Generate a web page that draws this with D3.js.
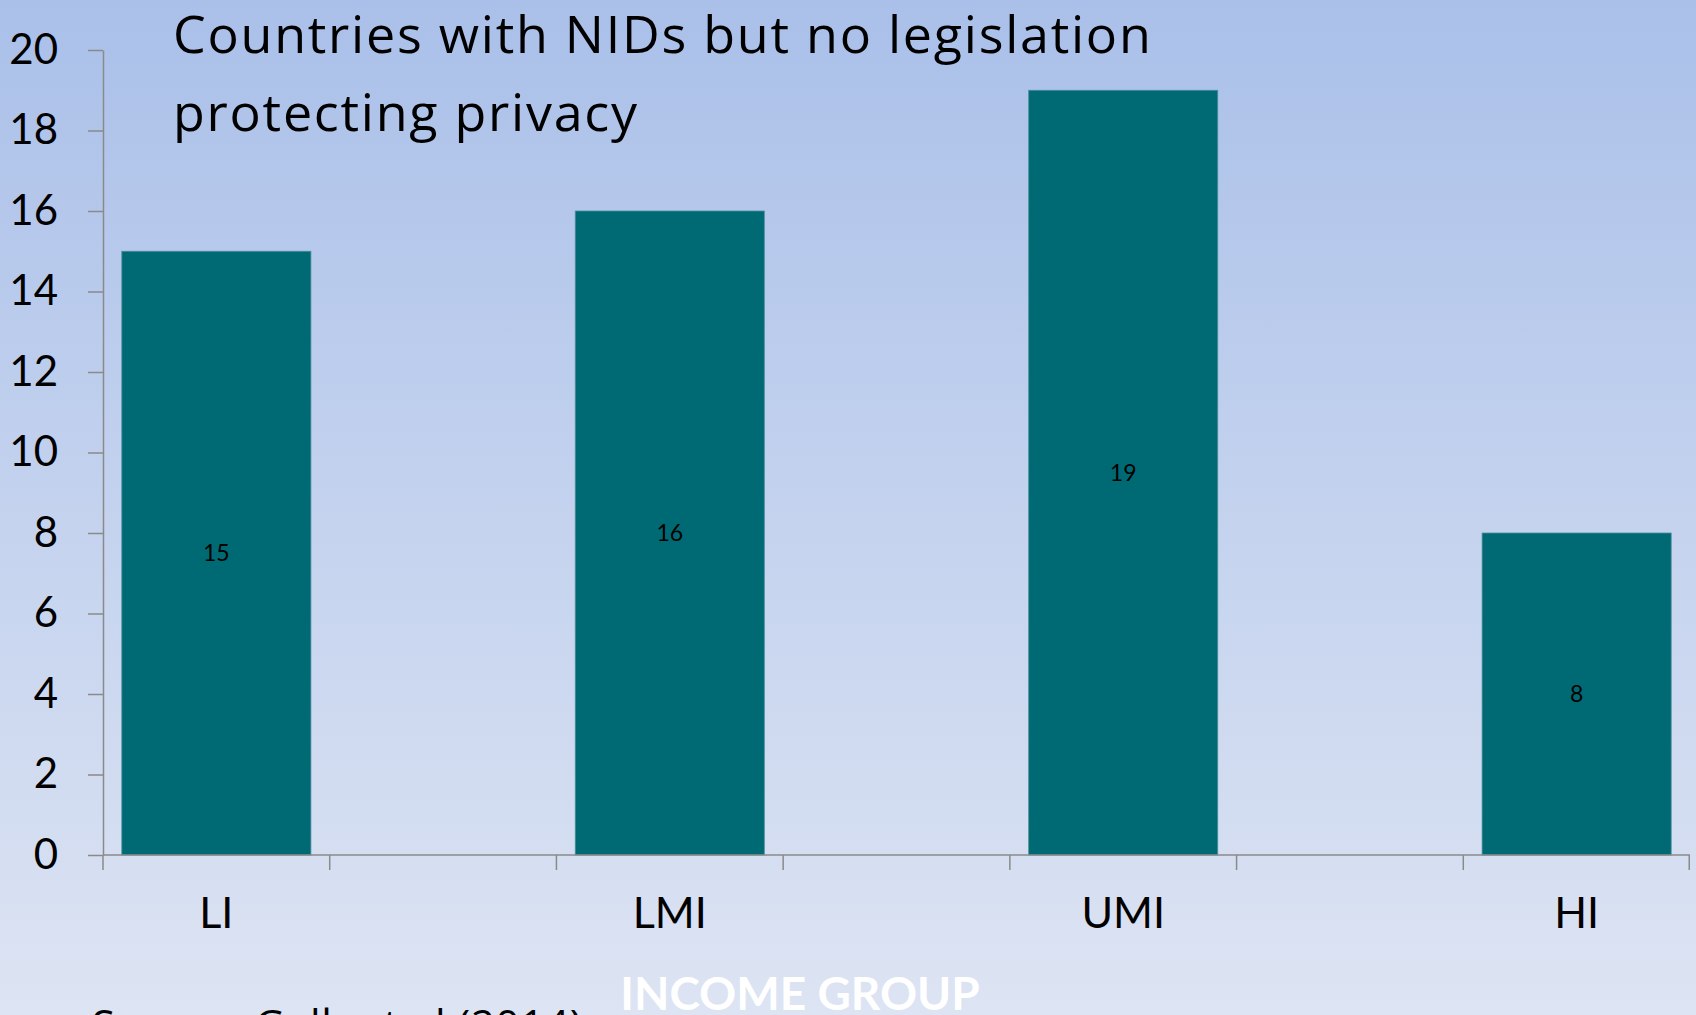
<!DOCTYPE html>
<html>
<head>
<meta charset="utf-8">
<script src="https://cdn.jsdelivr.net/npm/d3@7"></script>
<style>
  body { margin: 0; overflow: hidden; }
  text { font-family: Lato, "Open Sans", sans-serif; font-variant-ligatures: none; }
  .axis path, .axis line { stroke: #8a8a8a; stroke-width: 1.5; }
  .axis text { font-size: 42px; fill: #000; }
  .wide { font-family: "Open Sans", Lato, sans-serif; }
</style>
</head>
<body>
<div id="chart"></div>
<script>
// data
var categories = ["LI", "LMI", "UMI", "HI"];
var values = [15, 16, 19, 8];
var yTickValues = [0, 2, 4, 6, 8, 10, 12, 14, 16, 18, 20];
var titleLines = ["Countries with NIDs but no legislation", "protecting privacy"];

var W = 1696, H = 1015;
var margin = {top: 50, right: 6, bottom: 160, left: 103},
    width = W - margin.left - margin.right,
    height = H - margin.top - margin.bottom;

var data = categories.map(function(c, i) { return {cat: c, value: values[i]}; });

// the sheet had empty rows between the groups, so each group sits in every other slot
var slots = [];
categories.forEach(function(c, i) {
    slots.push(c);
    if (i < categories.length - 1) slots.push("gap" + i);
});

var svg = d3.select("#chart").append("svg")
    .attr("width", W)
    .attr("height", H);

// background gradient
var grad = svg.append("defs").append("linearGradient")
    .attr("id", "bg")
    .attr("x1", 0).attr("y1", 0).attr("x2", 0).attr("y2", 1);
grad.append("stop").attr("offset", "0%").attr("stop-color", "#aac0e9");
grad.append("stop").attr("offset", "100%").attr("stop-color", "#dde4f3");

svg.append("rect")
    .attr("width", W)
    .attr("height", H)
    .attr("fill", "url(#bg)");

var g = svg.append("g")
    .attr("transform", "translate(" + margin.left + "," + margin.top + ")");

// set the ranges
var x = d3.scaleBand().domain(slots).range([0, width])
    .paddingInner(0.166).paddingOuter(0.083);
var y = d3.scaleLinear().domain([0, 20]).range([height, 0]);

// bars
g.selectAll(".bar")
    .data(data)
    .enter().append("rect")
    .attr("class", "bar")
    .attr("x", function(d) { return x(d.cat); })
    .attr("width", x.bandwidth())
    .attr("y", function(d) { return y(d.value); })
    .attr("height", function(d) { return height - y(d.value); })
    .attr("fill", "#006a74")
    .attr("stroke", "#4d8e9c")
    .attr("stroke-width", 0.8);

// value labels in the middle of each bar
g.selectAll(".value")
    .data(data)
    .enter().append("text")
    .attr("class", "value")
    .attr("x", function(d) { return x(d.cat) + x.bandwidth() / 2; })
    .attr("y", function(d) { return y(d.value / 2); })
    .attr("dy", "0.35em")
    .attr("text-anchor", "middle")
    .style("font-size", "23px")
    .text(function(d) { return d.value; });

// Y axis
g.append("g")
    .attr("class", "y axis")
    .call(d3.axisLeft(y).tickValues(yTickValues).tickSize(15).tickSizeOuter(0).tickPadding(30));

// X axis: baseline plus a tick at every slot boundary
var xAxis = g.append("g")
    .attr("class", "x axis")
    .attr("transform", "translate(0," + height + ")");

xAxis.append("line")
    .attr("x1", 0).attr("x2", width)
    .attr("y1", 0).attr("y2", 0);

xAxis.selectAll(".tick-line")
    .data(d3.range(slots.length + 1))
    .enter().append("line")
    .attr("class", "tick-line")
    .attr("x1", function(i) { return Math.min(i * x.step(), width - 0.75); })
    .attr("x2", function(i) { return Math.min(i * x.step(), width - 0.75); })
    .attr("y1", 0)
    .attr("y2", 15);

xAxis.selectAll(".cat")
    .data(categories)
    .enter().append("text")
    .attr("class", "cat")
    .attr("x", function(c) { return x(c) + x.bandwidth() / 2; })
    .attr("y", 73)
    .attr("text-anchor", "middle")
    .style("font-size", "43px")
    .text(function(c) { return c; });

// title
svg.append("text")
    .attr("class", "wide")
    .attr("x", 173)
    .attr("y", 53)
    .style("font-size", "52px")
    .style("letter-spacing", "1.75px")
    .selectAll("tspan")
    .data(titleLines)
    .enter().append("tspan")
    .attr("x", 173)
    .attr("dy", function(d, i) { return i ? 78 : 0; })
    .text(function(d) { return d; });

// axis title
svg.append("text")
    .attr("x", 800)
    .attr("y", 1010)
    .attr("text-anchor", "middle")
    .style("font-size", "46px")
    .style("font-weight", "bold")
    .attr("fill", "#ffffff")
    .text("INCOME GROUP");

// source note, cut off by the slide edge
svg.append("text")
    .attr("class", "wide")
    .attr("x", 92)
    .attr("y", 1040)
    .style("font-size", "42px")
    .style("letter-spacing", "0.7px")
    .text("Source: Gelb et al (2014)");
</script>
</body>
</html>
